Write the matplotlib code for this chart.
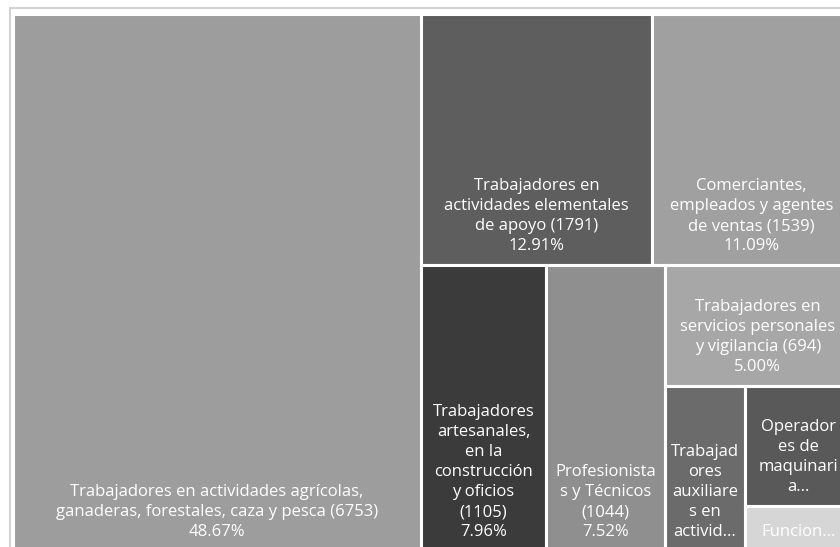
import matplotlib
matplotlib.use("Agg")
import matplotlib.pyplot as plt
from matplotlib.patches import Rectangle

# data
labels = [
    "Trabajadores en actividades agrícolas,\nganaderas, forestales, caza y pesca (6753)\n48.67%",
    "Trabajadores en\nactividades elementales\nde apoyo (1791)\n12.91%",
    "Comerciantes,\nempleados y agentes\nde ventas (1539)\n11.09%",
    "Trabajadores\nartesanales,\nen la\nconstrucción\ny oficios\n(1105)\n7.96%",
    "Profesionista\ns y Técnicos\n(1044)\n7.52%",
    "Trabajadores en\nservicios personales\ny vigilancia (694)\n5.00%",
    "Trabajad\nores\nauxiliare\ns en\nactivid...",
    "Operador\nes de\nmaquinari\na...",
    "Funcion...",
]
values = [6753, 1791, 1539, 1105, 1044, 694, 410, 393, 146]
colors = ["#9d9d9d", "#5e5e5e", "#a0a0a0", "#3b3b3b", "#8f8f8f",
          "#a7a7a7", "#6b6b6b", "#595959", "#d6d6d6"]

total = sum(values)
X0, Y0, W, H = 13, 14, 838, 537


def layout(v):
    rects = []
    wb = W * v[0] / total
    rects.append((X0, Y0, wb, H))
    rest = sum(v[1:])
    xr = X0 + wb
    wr = W - wb
    ht = H * (v[1] + v[2]) / rest
    w1 = wr * v[1] / (v[1] + v[2])
    rects.append((xr, Y0, w1, ht))
    rects.append((xr + w1, Y0, wr - w1, ht))
    yb = Y0 + ht
    hb = H - ht
    bottom = sum(v[3:])
    x = xr
    for val in v[3:5]:
        w = wr * val / bottom
        rects.append((x, yb, w, hb))
        x += w
    wg = xr + wr - x
    grp = sum(v[5:])
    h694 = hb * v[5] / grp
    rects.append((x, yb, wg, h694))
    ys = yb + h694
    hs = hb - h694
    small = sum(v[6:])
    wa = wg * v[6] / small
    rects.append((x, ys, wa, hs))
    ho = hs * v[7] / (v[7] + v[8])
    rects.append((x + wa, ys, wg - wa, ho))
    rects.append((x + wa, ys + ho, wg - wa, hs - ho))
    return rects


fig = plt.figure(figsize=(8.4, 5.47), dpi=100)
ax = fig.add_axes([0, 0, 1, 1])
ax.set_xlim(0, 840)
ax.set_ylim(547, 0)
ax.axis("off")

ax.add_patch(Rectangle((10, 8), 860, 560, facecolor="white",
                       edgecolor="#d2d2d2", linewidth=1.5))

for (x, y, w, h), lab, c in zip(layout(values), labels, colors):
    p = Rectangle((x, y), w, h, facecolor=c, edgecolor="white", linewidth=2.2)
    ax.add_patch(p)
    t = ax.text(x + w / 2, y + h - 11, lab, ha="center", va="bottom",
                color="white", fontsize=12, family="Open Sans",
                linespacing=1.33)
    t.set_clip_path(p)

fig.savefig("out.png", dpi=100)
